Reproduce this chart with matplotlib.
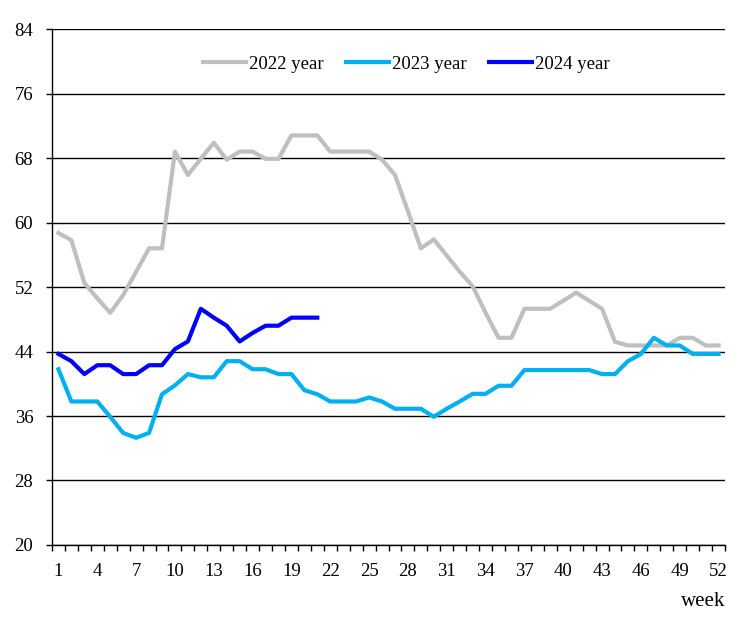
import matplotlib
matplotlib.use("Agg")
import matplotlib.pyplot as plt
from matplotlib.ticker import FixedLocator

plt.rcParams['font.family'] = ['Liberation Serif', 'DejaVu Serif']

weeks = list(range(1, 53))

y2022 = [58.7, 57.8, 52.5, 50.6, 48.8, 51.0, 53.9, 56.8, 56.8, 68.8,
         65.9, 67.9, 69.9, 67.8, 68.8, 68.8, 67.9, 67.9, 70.8, 70.8,
         70.8, 68.8, 68.8, 68.8, 68.8, 67.8, 65.9, 61.4, 56.8, 57.9,
         55.9, 53.9, 52.1, 48.8, 45.7, 45.7, 49.3, 49.3, 49.3, 50.3,
         51.3, 50.3, 49.3, 45.2, 44.75, 44.75, 44.75, 44.75, 45.7, 45.7,
         44.75, 44.75]

y2023 = [41.8, 37.8, 37.8, 37.8, 35.9, 33.9, 33.3, 33.9, 38.7, 39.8,
         41.2, 40.8, 40.8, 42.8, 42.8, 41.8, 41.8, 41.2, 41.2, 39.2,
         38.7, 37.8, 37.8, 37.8, 38.3, 37.8, 36.9, 36.9, 36.9, 35.9,
         36.9, 37.8, 38.75, 38.75, 39.75, 39.75, 41.7, 41.7, 41.7, 41.7,
         41.7, 41.7, 41.2, 41.2, 42.8, 43.7, 45.7, 44.75, 44.75, 43.7,
         43.7, 43.7]

y2024 = [43.7, 42.8, 41.2, 42.3, 42.3, 41.2, 41.2, 42.3, 42.3, 44.3,
         45.25, 49.3, 48.2, 47.2, 45.25, 46.3, 47.2, 47.2, 48.2, 48.2,
         48.2]

labels = ['2022 year', '2023 year', '2024 year']
colors = ['#BFBFBF', '#00B0F0', '#0000FF']

fig = plt.figure(figsize=(7.5, 6.31), dpi=100)
ax = fig.add_axes([0.0693, 0.1363, 0.8974, 0.8177])

ax.plot(weeks, y2022, color=colors[0], lw=3, label=labels[0], solid_joinstyle='round')
ax.plot(weeks, y2023, color=colors[1], lw=3, label=labels[1], solid_joinstyle='round')
ax.plot(weeks[:len(y2024)], y2024, color=colors[2], lw=3, label=labels[2], solid_joinstyle='round')

ax.set_xlim(0.5, 52.5)
ax.set_ylim(20, 84)
ax.set_yticks(range(20, 85, 8))
ax.yaxis.grid(True, color='black', lw=1)
ax.set_axisbelow(True)

ax.set_xticks(range(1, 53, 3))
ax.xaxis.set_minor_locator(FixedLocator([i + 0.5 for i in range(0, 53)]))
ax.tick_params(axis='x', which='major', length=0, pad=13, labelsize=13.5)
ax.tick_params(axis='x', which='minor', length=4.5, direction='out', width=1)
ax.tick_params(axis='y', length=4.5, direction='out', width=1, pad=9, labelsize=13.5)

for s in ['top', 'right']:
    ax.spines[s].set_visible(False)
for s in ['left', 'bottom']:
    ax.spines[s].set_linewidth(1)

ax.text(1.0, -0.11, 'week', transform=ax.transAxes, ha='right', va='center', fontsize=15)

ax.legend(loc='center', bbox_to_anchor=(0.526, 0.932), ncol=3, frameon=False,
          fontsize=13.5, handlelength=2.3, handletextpad=0.15, columnspacing=1.2)

fig.savefig('out.png', dpi=100)
